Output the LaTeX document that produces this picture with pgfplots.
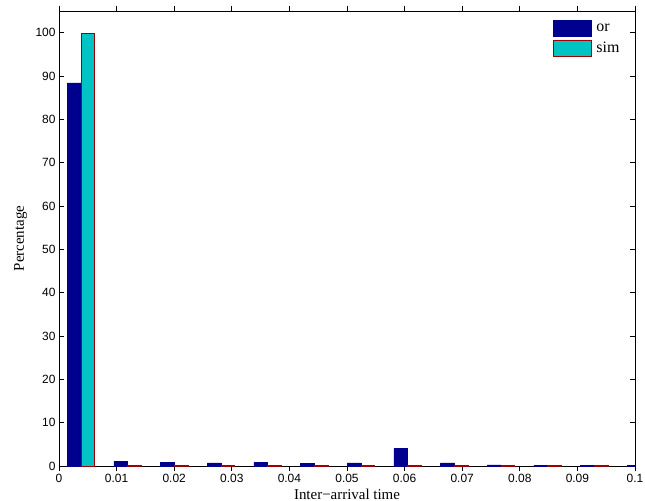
\documentclass[border=0pt]{standalone}
\usepackage{fontspec}
\setmainfont{Liberation Serif}
\newfontfamily\arial{Liberation Sans}
\usepackage{pgfplots}
\pgfplotsset{compat=1.18}
\definecolor{orc}{rgb}{0,0,0.56}
\definecolor{simc}{RGB}{0,196,196}
\definecolor{simedge}{rgb}{0.62,0,0}
\begin{document}
\begin{tikzpicture}
\begin{axis}[
  scale only axis,
  width=576bp, height=455bp,
  xmin=0, xmax=0.1, ymin=0, ymax=105,
  xtick={0,0.01,0.02,0.03,0.04,0.05,0.06,0.07,0.08,0.09,0.1},
  xticklabels={0,0.01,0.02,0.03,0.04,0.05,0.06,0.07,0.08,0.09,0.1},
  ytick={0,10,20,30,40,50,60,70,80,90,100},
  yticklabels={0,10,20,30,40,50,60,70,80,90,100},
  tick align=inside, tick pos=both,
  major tick length=5bp,
  axis line style={line width=0.8bp},
  every tick/.style={black, line width=0.8bp},
  tick label style={font=\arial\fontsize{12}{14}\selectfont},
  xlabel={Inter−arrival time},
  ylabel={Percentage},
  label style={font=\fontsize{15}{17}\selectfont},
  xlabel style={at={(axis description cs:0.5,0)}, yshift=-33bp, anchor=base},
  ylabel style={at={(axis description cs:-0.0608,0.5)}, anchor=base},
  ybar, bar width=0.00238, bar shift=0,
  legend style={draw=none, fill=none, at={(0.982,0.985)}, anchor=north east,
    font=\fontsize{16}{18}\selectfont, row sep=3bp},
  legend image code/.code={\draw[#1] (0bp,-8bp) rectangle (38bp,8bp); \path (41bp,0bp);},
  legend cell align=left,
]
\addplot[fill=orc, draw=orc, line width=0.5bp] coordinates {
 (0.00263,88.4) (0.01073,1.1) (0.01883,0.85) (0.02693,0.7) (0.03503,0.85)
 (0.04313,0.55) (0.05123,0.7) (0.05933,4.0) (0.06743,0.7) (0.07553,0.25)
 (0.08363,0.2) (0.09173,0.15) (0.09983,0.15)
};
\addlegendentry{or}
\addplot[fill=simc, draw=simedge, line width=0.6bp] coordinates {
 (0.00501,99.8) (0.01311,0.08) (0.02121,0.08) (0.02931,0.08) (0.03741,0.08)
 (0.04551,0.08) (0.05361,0.08) (0.06171,0.08) (0.06981,0.08) (0.07791,0.08)
 (0.08601,0.08) (0.09411,0.08) (0.10221,0.08)
};
\addlegendentry{sim}
\end{axis}
\pgfresetboundingbox
\path[use as bounding box] (current axis.south west) ++(-59bp,-35bp) rectangle ++(645bp,501bp);
\end{tikzpicture}
\end{document}
